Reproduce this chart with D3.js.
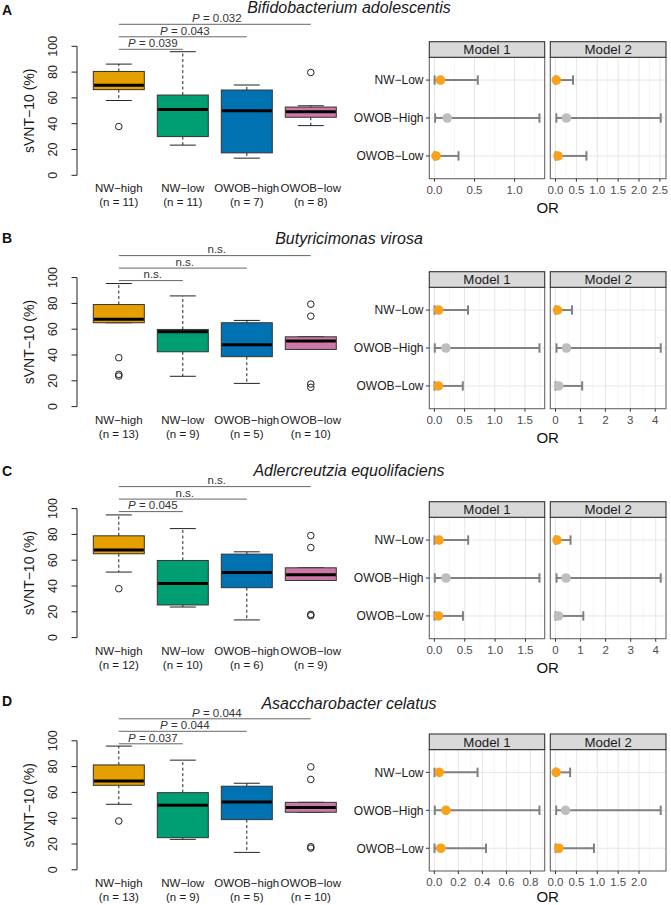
<!DOCTYPE html>
<html><head><meta charset="utf-8">
<script src="https://cdn.jsdelivr.net/npm/d3@7"></script>
<style>body{margin:0;background:#fff} svg{display:block;font-family:'Liberation Sans',Arial,sans-serif}</style>
</head><body><svg id="chart" width="671" height="905"></svg>
<script>
// ---------- DATA ----------
const groups = ["NW\u2212high","NW\u2212low","OWOB\u2212high","OWOB\u2212low"];
const groupColors = ["#E69F00","#009E73","#0072B2","#CC79A7"];
const panelLetters = ["A","B","C","D"];
const speciesTitles = ["Bifidobacterium adolescentis","Butyricimonas virosa","Adlercreutzia equolifaciens","Asaccharobacter celatus"];
const yTicks = [0,20,40,60,80,100];

const nA = [11,11,7,8];
const nB = [13,9,5,10];
const nC = [12,10,6,9];
const nD = [13,9,5,10];

// [lower whisker, Q1, median, Q3, upper whisker]
const boxA = [[58,66.4,69.8,80.5,86.2],[23.4,30,51,62.2,95.8],[13.3,17.4,50,66.1,70],[38.5,45,49.2,52.9,53.9]];
const boxB = [[65,65,67.8,79.1,95.4],[23.5,42.5,58,59.8,85.8],[18,38.7,47.9,65,66.8],[44.3,44.3,50.8,54.1,54.1]];
const boxC = [[50.8,65,68,78.9,95.1],[23.7,25.3,42,59.8,84.5],[13.7,38.7,50.5,64.7,66.5],[44.3,44.3,48.7,54.1,54.1]];
const boxD = [[50.8,65.5,68.9,81.3,95.9],[23.6,24.9,50,59.8,85],[13.5,38.9,52.6,64.8,67.1],[44.6,44.6,48.2,52.3,52.3]];

const outA = [[37.8],[],[],[79.7]];
const outB = [[37.9,25,23.7],[],[],[79.4,70.1,17.5,14.9]];
const outC = [[37.9],[],[],[79.1,69.8,18,17]];
const outD = [[37.8],[],[],[79.8,70,17.9,16.8]];

// NW-high vs NW-low, OWOB-high, OWOB-low
const pA = ["0.039","0.043","0.032"];
const pB = ["n.s.","n.s.","n.s."];
const pC = ["0.045","n.s.","n.s."];
const pD = ["0.037","0.044","0.044"];

const orRows = ["NW\u2212Low","OWOB\u2212High","OWOB\u2212Low"];
const models = ["Model 1","Model 2"];
// [OR, lower CI, upper CI, significant]
const orA1 = [[0.075,0.002,0.54,1],[0.16,0.008,1.31,0],[0.02,0.001,0.30,1]];
const orA2 = [[0.02,0.001,0.42,1],[0.26,0.02,2.52,0],[0.06,0.002,0.74,1]];
const orB1 = [[0.07,0.002,0.556,1],[0.19,0.006,1.74,0],[0.066,0.002,0.47,1]];
const orB2 = [[0.08,0.002,0.66,1],[0.44,0.04,4.22,0],[0.13,0.003,1.07,0]];
const orC1 = [[0.077,0.002,0.556,1],[0.19,0.006,1.73,0],[0.066,0.002,0.47,1]];
const orC2 = [[0.06,0.002,0.6,1],[0.42,0.04,4.2,0],[0.12,0.003,1.11,0]];
const orD1 = [[0.042,0.002,0.36,1],[0.097,0.004,0.875,1],[0.055,0.002,0.43,1]];
const orD2 = [[0.016,0.001,0.35,1],[0.24,0.016,2.52,0],[0.08,0.002,0.92,1]];

const ticksA1 = [0,0.5,1.0];
const ticksA2 = [0,0.5,1.0,1.5,2.0,2.5];
const ticksB1 = [0,0.5,1.0,1.5];
const ticksB2 = [0,1,2,3,4];
const ticksC1 = [0,0.5,1.0,1.5];
const ticksC2 = [0,1,2,3,4];
const ticksD1 = [0,0.2,0.4,0.6,0.8];
const ticksD2 = [0,0.5,1.0,1.5,2.0];

// ---------- LAYOUT ----------
const boxOff = [0, 231.3, 462.3, 694.5];
const forestOff = [0, 230, 460, 692.3];
const titleY = [7.5, 238.4, 470.3, 703.7];
const letterY = [10, 237.5, 470.8, 700.8];

const svg = d3.select("#chart");

const panels = [
  {n:nA, box:boxA, out:outA, p:pA, f:[orA1,orA2], t:[ticksA1,ticksA2]},
  {n:nB, box:boxB, out:outB, p:pB, f:[orB1,orB2], t:[ticksB1,ticksB2]},
  {n:nC, box:boxC, out:outC, p:pC, f:[orC1,orC2], t:[ticksC1,ticksC2]},
  {n:nD, box:boxD, out:outD, p:pD, f:[orD1,orD2], t:[ticksD1,ticksD2]}
];

panels.forEach((P, i) => {
  const g = svg.append("g");
  const bo = boxOff[i], fo = forestOff[i];

  // panel letter & title
  g.append("text").attr("x", 2).attr("y", letterY[i] + 5)
    .attr("font-size", 14).attr("font-weight", "bold").attr("fill", "#111").text(panelLetters[i]);
  g.append("text").attr("x", 349).attr("y", titleY[i] + 5.6)
    .attr("text-anchor", "middle").attr("font-size", 16).attr("font-style", "italic")
    .attr("fill", "#1a1a1a").text(speciesTitles[i]);

  // ---- boxplot ----
  const y = d3.scaleLinear().domain([0,100]).range([bo + 175.3, bo + 46.3]);
  const x = d3.scalePoint().domain(groups).range([118.8, 310.8]);
  const bw = 51, cw = 26;

  // y axis
  g.append("line").attr("x1", 77).attr("x2", 77).attr("y1", y(0)).attr("y2", y(100))
    .attr("stroke", "#222").attr("stroke-width", 1);
  yTicks.forEach(v => {
    g.append("line").attr("x1", 71.5).attr("x2", 77).attr("y1", y(v)).attr("y2", y(v))
      .attr("stroke", "#222").attr("stroke-width", 1);
    g.append("text").attr("transform", `translate(56.5,${y(v)}) rotate(-90)`)
      .attr("text-anchor", "middle").attr("font-size", 12.5).attr("fill", "#222").text(v);
  });
  g.append("text").attr("transform", `translate(33.5,${(y(0)+y(100))/2}) rotate(-90)`)
    .attr("text-anchor", "middle").attr("font-size", 14).attr("fill", "#1a1a1a").text("sVNT\u221210 (%)");

  groups.forEach((grp, k) => {
    const s = P.box[k], cx = x(grp);
    // whiskers
    g.append("line").attr("x1", cx).attr("x2", cx).attr("y1", y(s[3])).attr("y2", y(s[4]))
      .attr("stroke", "#222").attr("stroke-dasharray", "3,2.5");
    g.append("line").attr("x1", cx).attr("x2", cx).attr("y1", y(s[1])).attr("y2", y(s[0]))
      .attr("stroke", "#222").attr("stroke-dasharray", "3,2.5");
    [s[0], s[4]].forEach(v => g.append("line").attr("x1", cx - cw/2).attr("x2", cx + cw/2)
      .attr("y1", y(v)).attr("y2", y(v)).attr("stroke", "#222"));
    g.append("rect").attr("x", cx - bw/2).attr("y", y(s[3])).attr("width", bw)
      .attr("height", y(s[1]) - y(s[3])).attr("fill", groupColors[k]).attr("stroke", "#333").attr("stroke-width", 1);
    g.append("line").attr("x1", cx - bw/2 + 0.5).attr("x2", cx + bw/2 - 0.5).attr("y1", y(s[2])).attr("y2", y(s[2]))
      .attr("stroke", "#000").attr("stroke-width", 3);
    P.out[k].forEach(v => g.append("circle").attr("cx", cx).attr("cy", y(v)).attr("r", 3.3)
      .attr("fill", "none").attr("stroke", "#222").attr("stroke-width", 1));
    g.append("text").attr("x", cx).attr("y", y(0) + 17).attr("text-anchor", "middle")
      .attr("font-size", 11.5).attr("fill", "#1a1a1a").text(grp);
    g.append("text").attr("x", cx).attr("y", y(0) + 31).attr("text-anchor", "middle")
      .attr("font-size", 11.5).attr("fill", "#1a1a1a").text(`(n = ${P.n[k]})`);
  });

  // brackets
  const bracketLift = [126, 138.5, 151];
  P.p.forEach((pv, k) => {
    const ly = y(0) - bracketLift[k];
    const x1 = x(groups[0]), x2 = x(groups[k + 1]);
    g.append("line").attr("x1", x1).attr("x2", x2).attr("y1", ly).attr("y2", ly)
      .attr("stroke", "#666").attr("stroke-width", 1);
    const t = g.append("text").attr("x", (x1 + x2) / 2 + 2).attr("y", ly - 2.3)
      .attr("text-anchor", "middle").attr("font-size", 11.5).attr("fill", "#333");
    if (pv === "n.s.") t.text("n.s.");
    else { t.append("tspan").attr("font-style", "italic").text("P"); t.append("tspan").text(" = " + pv); }
  });

  // ---- forest plots ----
  const stripTop = fo + 41.7, stripBot = fo + 57.3, panelBot = fo + 178.7;
  const yr = d3.scalePoint().domain(orRows).range([stripBot, panelBot]).padding(0.6);
  const xr = [[429.3, 544.7], [550.3, 666]];

  models.forEach((m, j) => {
    const data = P.f[j], ticks = P.t[j];
    const lo = d3.min(data, d => d[1]), hi = d3.max(data, d => d[2]);
    const pad = (hi - lo) * 0.05;
    const xs = d3.scaleLinear().domain([lo - pad, hi + pad]).range(xr[j]);
    const [L, R] = xr[j];
    const fg = g.append("g");
    fg.append("rect").attr("x", L).attr("y", stripBot).attr("width", R - L).attr("height", panelBot - stripBot).attr("fill", "#fff");
    // minor grid
    const step = ticks[1] - ticks[0];
    const minors = [];
    for (let v = ticks[0] - step / 2; v <= xs.domain()[1]; v += step) if (v >= xs.domain()[0]) minors.push(v);
    minors.forEach(v => fg.append("line").attr("x1", xs(v)).attr("x2", xs(v)).attr("y1", stripBot).attr("y2", panelBot)
      .attr("stroke", "#F0F0F0").attr("stroke-width", 0.6));
    ticks.forEach(v => fg.append("line").attr("x1", xs(v)).attr("x2", xs(v)).attr("y1", stripBot).attr("y2", panelBot)
      .attr("stroke", "#E6E6E6").attr("stroke-width", 1));
    orRows.forEach(r => fg.append("line").attr("x1", L).attr("x2", R).attr("y1", yr(r)).attr("y2", yr(r))
      .attr("stroke", "#E6E6E6").attr("stroke-width", 1));
    // error bars & points
    data.forEach((d, k) => {
      const cy = yr(orRows[k]);
      fg.append("line").attr("x1", xs(d[1])).attr("x2", xs(d[2])).attr("y1", cy).attr("y2", cy)
        .attr("stroke", "#808080").attr("stroke-width", 2);
      [d[1], d[2]].forEach(v => fg.append("line").attr("x1", xs(v)).attr("x2", xs(v)).attr("y1", cy - 4.7).attr("y2", cy + 4.7)
        .attr("stroke", "#808080").attr("stroke-width", 2));
    });
    data.forEach((d, k) => {
      fg.append("circle").attr("cx", xs(d[0])).attr("cy", yr(orRows[k])).attr("r", 4.8)
        .attr("fill", d[3] ? "#F9A11B" : "#BEBEBE");
    });
    // border & strip
    fg.append("rect").attr("x", L).attr("y", stripBot).attr("width", R - L).attr("height", panelBot - stripBot)
      .attr("fill", "none").attr("stroke", "#666").attr("stroke-width", 1.1);
    fg.append("rect").attr("x", L).attr("y", stripTop).attr("width", R - L).attr("height", stripBot - stripTop)
      .attr("fill", "#D9D9D9").attr("stroke", "#333").attr("stroke-width", 1.1);
    fg.append("text").attr("x", (L + R) / 2).attr("y", (stripTop + stripBot) / 2 + 4.7).attr("text-anchor", "middle")
      .attr("font-size", 13.3).attr("fill", "#1a1a1a").text(m);
    // x ticks
    const allInt = ticks.every(v => Number.isInteger(v));
    ticks.forEach(v => {
      fg.append("line").attr("x1", xs(v)).attr("x2", xs(v)).attr("y1", panelBot).attr("y2", panelBot + 3)
        .attr("stroke", "#333").attr("stroke-width", 1);
      fg.append("text").attr("x", xs(v)).attr("y", panelBot + 15).attr("text-anchor", "middle")
        .attr("font-size", 11.5).attr("fill", "#4D4D4D").text(allInt ? String(v) : v.toFixed(1));
    });
  });
  // row labels
  orRows.forEach(r => {
    g.append("line").attr("x1", 426).attr("x2", 429.3).attr("y1", yr(r)).attr("y2", yr(r)).attr("stroke", "#333");
    g.append("text").attr("x", 423.5).attr("y", yr(r) + 4.3).attr("text-anchor", "end")
      .attr("font-size", 12).attr("fill", "#1a1a1a").text(r);
  });
  g.append("text").attr("x", 547.7).attr("y", Math.min(panelBot + 34.5, 902)).attr("text-anchor", "middle")
    .attr("font-size", 15).attr("fill", "#111").text("OR");
});
</script></body></html>
